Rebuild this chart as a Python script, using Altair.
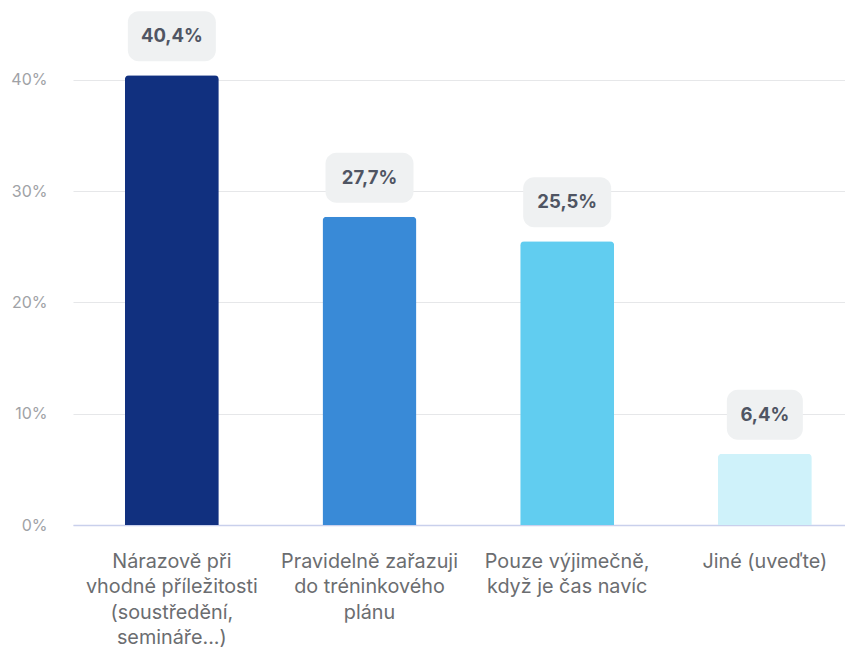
import altair as alt
import pandas as pd

categories = [
    "Nárazově při|vhodné příležitosti|(soustředění,|semináře...)",
    "Pravidelně zařazuji|do tréninkového|plánu",
    "Pouze výjimečně,|když je čas navíc",
    "Jiné (uveďte)",
]
values = [0.404, 0.277, 0.255, 0.064]
colors = ["#11307f", "#398ad7", "#61cdf0", "#cff2fa"]

df = pd.DataFrame({"cat": categories, "value": values, "color": colors})

x = alt.X(
    "cat:N",
    sort=categories,
    title=None,
    scale=alt.Scale(paddingInner=0.5245, paddingOuter=0.215, align=0.61),
    axis=alt.Axis(
        labelExpr="split(datum.label, '|')",
        labelAngle=0,
        labelFont="Inter",
        labelFontSize=19.8,
        labelColor="#6b6d70",
        labelLineHeight=25.5,
        labelPadding=26,
        labelLimit=300,
        ticks=False,
        domain=True,
        domainColor="#c9d0ec",
        domainWidth=1.5,
        grid=False,
    ),
)
y = alt.Y(
    "value:Q",
    title=None,
    scale=alt.Scale(domain=[0, 0.46], nice=False),
    axis=alt.Axis(
        values=[0, 0.1, 0.2, 0.3, 0.4],
        format=".0%",
        labelFont="Inter",
        labelFontSize=16,
        labelColor="#a0a2a6",
        labelPadding=26,
        ticks=False,
        domain=False,
        gridColor="#e6e7e9",
        gridWidth=1.2,
    ),
)

base = alt.Chart(df).transform_calculate(
    label="replace(format(datum.value, '.1%'), '.', ',')",
    boxw="12 * length(replace(format(datum.value, '.1%'), '.', ',')) + 28",
)

bars = base.mark_bar(
    size=94, cornerRadiusTopLeft=4, cornerRadiusTopRight=4
).encode(
    x=x,
    y=y,
    color=alt.Color("color:N", scale=None, legend=None),
)

boxes = base.mark_bar(
    cornerRadius=11, color="#eff1f2", yOffset=-64, y2Offset=-14
).encode(
    x=x,
    y=y,
    y2="value:Q",
    size=alt.Size("boxw:Q", scale=None, legend=None),
)

texts = base.mark_text(
    font="Inter", fontSize=18.5, fontWeight="bold", color="#4f5563",
    dy=-39, baseline="middle", align="center",
).encode(
    x=x,
    y=y,
    text="label:N",
)

chart = (
    alt.layer(bars, boxes, texts, view=alt.ViewBackground(strokeWidth=0, strokeOpacity=0))
    .properties(
        width=772,
        height=512,
        autosize=alt.AutoSizeParams(type="none"),
        padding={"left": 65, "top": 5, "right": 0, "bottom": 130},
    )
    .configure_view(strokeWidth=0, strokeOpacity=0)
    .configure(background="white")
)

chart.save("out.html", embed_options={"renderer": "svg", "actions": False})
